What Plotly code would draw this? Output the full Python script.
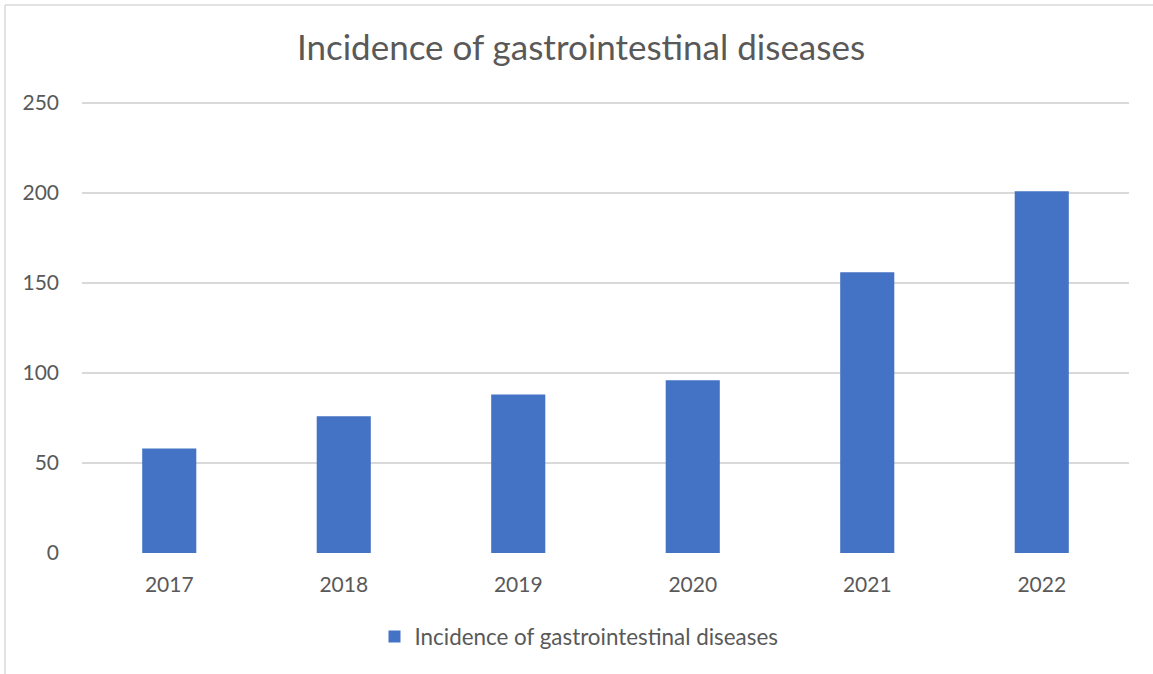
import plotly.graph_objects as go

years = ["2017", "2018", "2019", "2020", "2021", "2022"]
incidence = [58, 76, 88, 96, 156, 201]
series_name = "Incidence of gastrointestinal diseases"
y_ticks = [0, 50, 100, 150, 200, 250]

W, H = 1153, 674
L, R, T, B = 82, 24, 99, 121
pw, ph = W - L - R, H - T - B
y_max = 250 + 4 / 1.8  # small headroom so the top gridline is drawn

def px_x(px):
    return (px - L) / pw

def px_y(py):
    return (H - B - py) / ph

txt = "#595959"
font = "Lato, 'Open Sans', sans-serif"

fig = go.Figure()
fig.add_trace(go.Bar(
    x=years, y=incidence, name=series_name,
    marker=dict(color="#4472c4", line=dict(width=0)),
))

fig.update_layout(
    width=W, height=H,
    margin=dict(l=L, r=R, t=T, b=B),
    paper_bgcolor="white", plot_bgcolor="white",
    font=dict(family=font, color=txt),
    bargap=0.69,
    title=dict(text="Incidence of gastrointestinal diseases",
               x=581 / W, xanchor="center", xref="container",
               y=1 - 48 / H, yanchor="middle", yref="container",
               font=dict(size=35, color=txt, family=font)),
    showlegend=True,
    legend=dict(orientation="h", x=px_x(579), xanchor="center",
                y=px_y(637), yanchor="middle",
                font=dict(size=22.4, color=txt, family=font),
                itemwidth=30),
    xaxis=dict(showgrid=False, showline=False, zeroline=False,
               tickfont=dict(size=21, color=txt), ticks="",
               ticklabelstandoff=17),
    yaxis=dict(range=[0, y_max], tickvals=y_ticks, showgrid=True,
               gridcolor="#d9d9d9", gridwidth=1.5, zeroline=False,
               showline=False, ticks="",
               tickfont=dict(size=21, color=txt),
               ticklabelstandoff=22),
    shapes=[
        dict(type="line", xref="paper", yref="paper",
             x0=px_x(5), x1=px_x(W), y0=px_y(5), y1=px_y(5),
             line=dict(color="#d9d9d9", width=1.5)),
        dict(type="line", xref="paper", yref="paper",
             x0=px_x(5), x1=px_x(5), y0=px_y(5), y1=px_y(H),
             line=dict(color="#d9d9d9", width=1.5)),
    ],
)

fig.write_html("out.html",
               config={"displayModeBar": False},
               post_script="document.body.style.margin='0px';document.body.style.padding='0px';")
